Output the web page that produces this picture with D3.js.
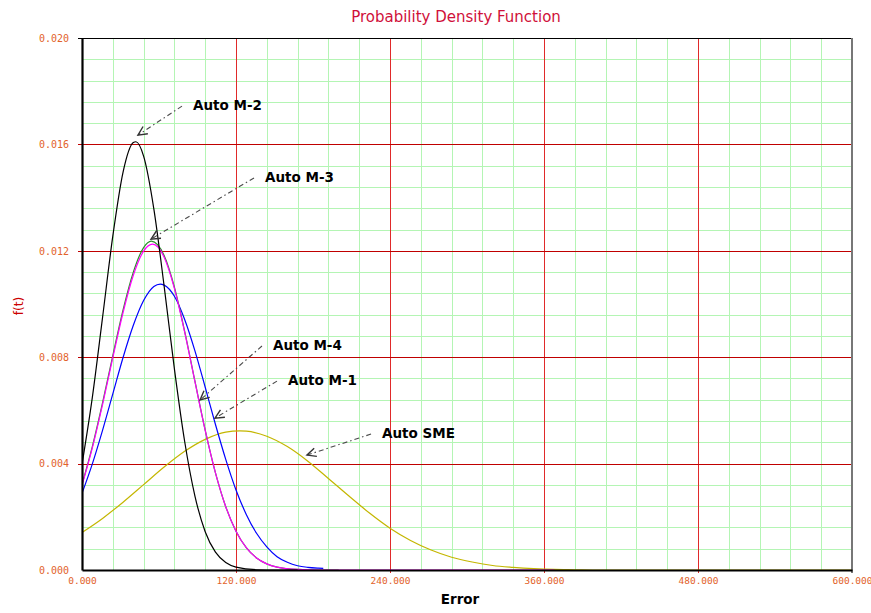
<!DOCTYPE html>
<html>
<head>
<meta charset="utf-8">
<script src="https://cdn.jsdelivr.net/npm/d3@7"></script>
<style>
  html, body { margin: 0; padding: 0; background: #ffffff; }
  svg { display: block; }
</style>
</head>
<body>
<svg id="chart" width="871" height="613"></svg>
<script>
// ---- data -------------------------------------------------------------
const xTickValues = [0, 120, 240, 360, 480, 600];
const yTickValues = [0, 0.004, 0.008, 0.012, 0.016, 0.020];

// Auto M-1 (blue)
const m1Err = [0, 8, 16, 24, 32, 40, 48, 56, 61, 64, 72, 80, 88, 96, 104, 112, 120, 128, 136, 144, 152, 160, 168, 176, 184, 188];
const m1Pdf = [0.00288, 0.00398, 0.00525, 0.00662, 0.00799, 0.0092, 0.01013, 0.01066, 0.01075, 0.01071, 0.01029, 0.00942, 0.00824, 0.00687, 0.00547, 0.00416, 0.00301, 0.00209, 0.00138, 0.00087, 0.0005, 0.00029, 0.00016, 0.0001, 0.00007, 0.00006];

// Auto M-2 (black)
const m2Err = [0, 8, 16, 24, 32, 40, 42, 48, 56, 64, 72, 80, 88, 96, 104, 112, 120, 136, 152, 168];
const m2Pdf = [0.00397, 0.00647, 0.00949, 0.01255, 0.01496, 0.01607, 0.0161, 0.01556, 0.01357, 0.01067, 0.00756, 0.00483, 0.00278, 0.00144, 0.00067, 0.00028, 0.00011, 0.00001, 0, 0];

// Auto M-3 (green)
const m3Err = [0, 8, 16, 24, 32, 40, 48, 54, 64, 72, 80, 88, 96, 104, 112, 120, 128, 136, 144, 152, 168, 184, 200];
const m3Pdf = [0.00322, 0.00463, 0.00628, 0.00806, 0.00978, 0.0112, 0.01212, 0.01236, 0.01182, 0.01063, 0.00897, 0.0071, 0.00526, 0.00365, 0.00238, 0.00146, 0.00084, 0.00045, 0.00023, 0.00011, 0.00002, 0, 0];

// Auto M-4 (magenta)
const m4Err = [0, 8, 16, 24, 32, 40, 48, 55, 64, 72, 80, 88, 96, 104, 112, 120, 128, 136, 144, 152, 168, 184, 200, 368];
const m4Pdf = [0.00318, 0.00458, 0.00622, 0.00798, 0.00968, 0.01108, 0.01199, 0.01225, 0.01176, 0.01059, 0.00894, 0.00708, 0.00525, 0.00365, 0.00238, 0.00146, 0.00084, 0.00045, 0.00023, 0.00011, 0.00002, 0, 0, 0];

// Auto SME (yellow)
const smeErr = [0, 16, 32, 48, 64, 80, 96, 112, 123, 128, 144, 160, 176, 192, 208, 224, 240, 256, 272, 288, 304, 320, 336, 352, 368, 384, 400, 600];
const smePdf = [0.00141, 0.00194, 0.00255, 0.00321, 0.00387, 0.00446, 0.00491, 0.00518, 0.00523, 0.00522, 0.00503, 0.00464, 0.00409, 0.00344, 0.00278, 0.00214, 0.00157, 0.00111, 0.00075, 0.00048, 0.0003, 0.00017, 0.0001, 0.00005, 0.00002, 0.00001, 0, 0];

// Callout labels: text, point the arrow touches, and where the label sits (data units)
const calloutNames = ["Auto M-2", "Auto M-3", "Auto M-4", "Auto M-1", "Auto SME"];
const calloutTipErr = [43.6, 53.8, 92.0, 103.6, 175.3];
const calloutTipPdf = [0.01635, 0.01244, 0.00639, 0.00571, 0.00432];
const calloutTextErr = [86.5, 142.6, 148.8, 160.5, 233.8];
const calloutTextPdf = [0.01729, 0.01459, 0.00827, 0.00695, 0.00496];

// ---- layout -----------------------------------------------------------
const svg = d3.select("#chart");
const plot = { left: 82, right: 852, top: 38, bottom: 570 };

const x = d3.scaleLinear().domain([0, 600]).range([plot.left, plot.right]);
const y = d3.scaleLinear().domain([0, 0.020]).range([plot.bottom, plot.top]);

const fmt = d3.format(".3f");

// ---- grid -------------------------------------------------------------
const minorX = d3.range(0, 601, 24).filter(v => v % 120 !== 0);
const minorY = d3.range(0, 26).map(i => i * 0.0008).filter((v, i) => i % 5 !== 0 && v <= 0.020);

const grid = svg.append("g").attr("shape-rendering", "crispEdges");
grid.selectAll("line.mx").data(minorX).join("line")
  .attr("x1", d => Math.round(x(d)) + 0.5).attr("x2", d => Math.round(x(d)) + 0.5)
  .attr("y1", plot.top).attr("y2", plot.bottom)
  .attr("stroke", "#b4f5b4").attr("stroke-width", 1);
grid.selectAll("line.my").data(minorY).join("line")
  .attr("y1", d => Math.round(y(d)) + 0.5).attr("y2", d => Math.round(y(d)) + 0.5)
  .attr("x1", plot.left).attr("x2", plot.right)
  .attr("stroke", "#b4f5b4").attr("stroke-width", 1);

// major lines, with short ticks running past the axes
grid.selectAll("line.MX").data(xTickValues.slice(1, -1)).join("line")
  .attr("x1", d => Math.round(x(d)) + 0.5).attr("x2", d => Math.round(x(d)) + 0.5)
  .attr("y1", plot.top).attr("y2", plot.bottom + 3)
  .attr("stroke", "#e02a2a").attr("stroke-width", 1);
grid.selectAll("line.MY").data(yTickValues.slice(1, -1)).join("line")
  .attr("y1", d => Math.round(y(d)) + 0.5).attr("y2", d => Math.round(y(d)) + 0.5)
  .attr("x1", plot.left - 4).attr("x2", plot.right)
  .attr("stroke", "#c00000").attr("stroke-width", 1);

// ---- curves -----------------------------------------------------------
const series = [
  { err: smeErr, pdf: smePdf, color: "#c4b600" },
  { err: m1Err, pdf: m1Pdf, color: "#0000ff" },
  { err: m3Err, pdf: m3Pdf, color: "#2a8f2a" },
  { err: m4Err, pdf: m4Pdf, color: "#ff00ff" },
  { err: m2Err, pdf: m2Pdf, color: "#000000" }
];

const line = d3.line()
  .x(d => x(d[0]))
  .y(d => y(d[1]))
  .curve(d3.curveMonotoneX);

svg.append("defs").append("clipPath").attr("id", "plotClip")
  .append("rect")
  .attr("x", plot.left).attr("y", plot.top - 1)
  .attr("width", plot.right - plot.left).attr("height", plot.bottom - plot.top + 2);

const curves = svg.append("g").attr("clip-path", "url(#plotClip)");
series.forEach(s => {
  curves.append("path")
    .datum(d3.zip(s.err, s.pdf))
    .attr("d", line)
    .attr("fill", "none")
    .attr("stroke", s.color)
    .attr("stroke-width", 1.2);
});

// ---- frame & axes -----------------------------------------------------
const frame = svg.append("g").attr("shape-rendering", "crispEdges");
frame.append("line") // top border
  .attr("x1", plot.left).attr("x2", plot.right)
  .attr("y1", plot.top + 0.5).attr("y2", plot.top + 0.5)
  .attr("stroke", "#000").attr("stroke-width", 1);
frame.append("line") // right border
  .attr("x1", plot.right).attr("x2", plot.right)
  .attr("y1", plot.top).attr("y2", plot.bottom + 3)
  .attr("stroke", "#777").attr("stroke-width", 2);
frame.append("line") // top tick
  .attr("x1", plot.left - 4).attr("x2", plot.left)
  .attr("y1", plot.top + 0.5).attr("y2", plot.top + 0.5)
  .attr("stroke", "#000").attr("stroke-width", 1);

const xAxis = d3.axisBottom(x).tickValues(xTickValues).tickFormat(fmt).tickSize(0).tickPadding(7);
const yAxis = d3.axisLeft(y).tickValues(yTickValues).tickFormat(fmt).tickSize(0).tickPadding(13);

const gx = svg.append("g").attr("transform", `translate(0,${plot.bottom})`).call(xAxis);
const gy = svg.append("g").attr("transform", `translate(${plot.left},0)`).call(yAxis);

[gx, gy].forEach(g => {
  g.select(".domain").attr("stroke", "#000").attr("stroke-width", 2.2);
  g.selectAll("text")
    .attr("fill", "#e2622a")
    .style("font-family", "'DejaVu Sans Mono', monospace")
    .style("font-size", "10px");
});
gx.selectAll("text").style("font-size", "9.5px");

// ---- titles -----------------------------------------------------------
svg.append("text")
  .attr("x", 456).attr("y", 22)
  .attr("text-anchor", "middle")
  .attr("fill", "#d0103a")
  .style("font-family", "'DejaVu Sans', sans-serif")
  .style("font-size", "15px")
  .text("Probability Density Function");

svg.append("text")
  .attr("transform", "translate(19,306) rotate(-90)")
  .attr("text-anchor", "middle")
  .attr("dominant-baseline", "central")
  .attr("fill", "#cc0000")
  .style("font-family", "'DejaVu Sans', sans-serif")
  .style("font-size", "12px")
  .text("f(t)");

svg.append("text")
  .attr("x", 460).attr("y", 604)
  .attr("text-anchor", "middle")
  .attr("fill", "#000")
  .style("font-family", "'DejaVu Sans', sans-serif")
  .style("font-weight", "bold")
  .style("font-size", "13.5px")
  .text("Error");

// ---- callouts ---------------------------------------------------------
const callouts = calloutNames.map((name, i) => ({
  name,
  tip: [x(calloutTipErr[i]), y(calloutTipPdf[i])],
  at: [x(calloutTextErr[i]), y(calloutTextPdf[i])]
}));

const cg = svg.append("g");
callouts.forEach(c => {
  const tail = [c.at[0] - 11, c.at[1] - 4];
  cg.append("line")
    .attr("x1", tail[0]).attr("y1", tail[1])
    .attr("x2", c.tip[0]).attr("y2", c.tip[1])
    .attr("stroke", "#4a4a4a")
    .attr("stroke-width", 1.1)
    .attr("stroke-dasharray", "5,3,1.5,3");

  // open arrow head at the tip
  const ang = Math.atan2(tail[1] - c.tip[1], tail[0] - c.tip[0]);
  const len = 10, spread = 0.45;
  const p1 = [c.tip[0] + len * Math.cos(ang + spread), c.tip[1] + len * Math.sin(ang + spread)];
  const p2 = [c.tip[0] + len * Math.cos(ang - spread), c.tip[1] + len * Math.sin(ang - spread)];
  cg.append("path")
    .attr("d", `M${p1[0]},${p1[1]}L${c.tip[0]},${c.tip[1]}L${p2[0]},${p2[1]}`)
    .attr("fill", "none")
    .attr("stroke", "#333")
    .attr("stroke-width", 1.4);

  cg.append("text")
    .attr("x", c.at[0]).attr("y", c.at[1])
    .attr("fill", "#000")
    .style("font-family", "'DejaVu Sans', sans-serif")
    .style("font-weight", "bold")
    .style("font-size", "13.5px")
    .text(c.name);
});
</script>
</body>
</html>
